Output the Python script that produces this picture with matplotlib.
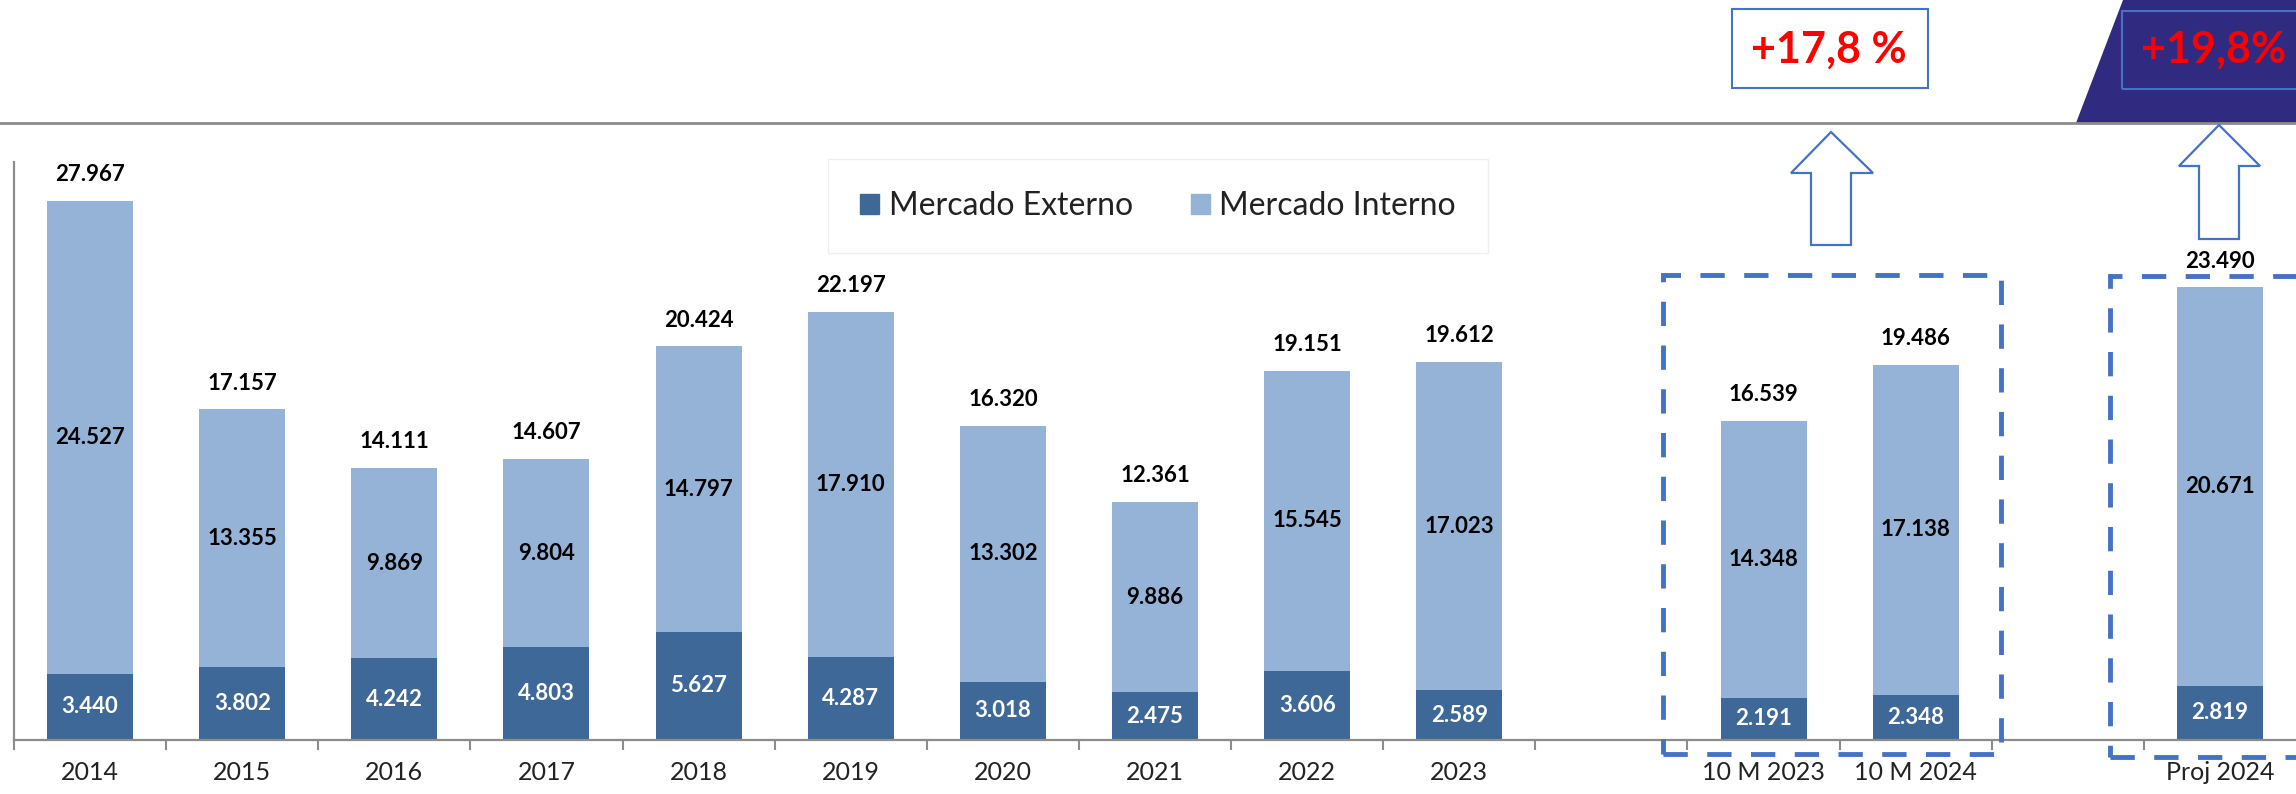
import matplotlib
matplotlib.use("Agg")
import matplotlib.pyplot as plt
from matplotlib.patches import Patch, Rectangle, Polygon
from matplotlib.lines import Line2D
from matplotlib.ticker import FixedLocator

plt.rcParams['font.family'] = ['Lato', 'DejaVu Sans']

# ---------------- data ----------------
categories = ["2014", "2015", "2016", "2017", "2018", "2019", "2020", "2021",
              "2022", "2023", "10 M 2023", "10 M 2024", "Proj 2024"]
slots = [0, 1, 2, 3, 4, 5, 6, 7, 8, 9, 11, 12, 14]
externo = [3440, 3802, 4242, 4803, 5627, 4287, 3018, 2475, 3606, 2589, 2191, 2348, 2819]
interno = [24527, 13355, 9869, 9804, 14797, 17910, 13302, 9886, 15545, 17023, 14348, 17138, 20671]
growth_labels = ["+17,8 %", "+19,8%"]
series_names = ["Mercado Externo", "Mercado Interno"]

C_EXT = "#3e6898"
C_INT = "#95b3d7"
C_BLUE = "#4472c4"
GRAY = "#8c8c8c"

W, H = 2296, 794
fig = plt.figure(figsize=(W / 100, H / 100), dpi=100)


def fx(x):
    return x / W


def fy(y):
    return 1 - y / H


ax = fig.add_axes([fx(14), fy(740), fx(W - 14), (740 - 162) / H])
ax.set_xlim(-0.5, 14.5)
ax.set_ylim(0, 30000)

bw = 0.565
ax.bar(slots, externo, width=bw, color=C_EXT, zorder=2)
ax.bar(slots, interno, width=bw, bottom=externo, color=C_INT, zorder=2)


def fmt(v):
    return f"{v:,}".replace(",", ".")


for x, e, i in zip(slots, externo, interno):
    ax.text(x, e / 2, fmt(e), ha="center", va="center", color="white",
            fontsize=16, fontweight="bold", zorder=3)
    ax.text(x, e + i / 2, fmt(i), ha="center", va="center", color="black",
            fontsize=16, fontweight="bold", zorder=3)
    ax.annotate(fmt(e + i), (x, e + i), xytext=(0, 19), textcoords="offset points",
                ha="center", va="center", color="black", fontsize=16,
                fontweight="bold", zorder=3)

# axes styling
for s in ["top", "right"]:
    ax.spines[s].set_visible(False)
for s in ["left", "bottom"]:
    ax.spines[s].set_color(GRAY)
    ax.spines[s].set_linewidth(1.6)
ax.set_yticks([])
ax.set_xticks(slots)
ax.set_xticklabels(categories, fontsize=18, color="#222222")
ax.tick_params(axis="x", which="major", length=0, pad=15)
ax.xaxis.set_minor_locator(FixedLocator([k - 0.5 for k in range(15)]))
ax.tick_params(axis="x", which="minor", length=7, width=1.5, color=GRAY)

# dashed highlight boxes
ax.add_patch(Rectangle((10.34, -730), 12.56 - 10.34, 24135 + 730, fill=False,
                       edgecolor=C_BLUE, linewidth=3.5, linestyle=(0, (5, 4)),
                       clip_on=False, zorder=4))
ax.add_patch(Rectangle((13.28, -880), 1.8, 24080 + 880, fill=False,
                       edgecolor=C_BLUE, linewidth=3.5, linestyle=(0, (5, 4)),
                       clip_on=False, zorder=4))

# legend
handles = [Patch(facecolor=C_EXT, edgecolor=C_EXT), Patch(facecolor=C_INT, edgecolor=C_INT)]
leg = fig.legend(handles, series_names, loc="center", bbox_to_anchor=(fx(1158), fy(206)),
                 ncol=2, fontsize=23, frameon=True, fancybox=False,
                 handlelength=0.6, handleheight=0.6, handletextpad=0.3,
                 columnspacing=1.8, borderpad=1.0)
leg.get_frame().set_edgecolor("#ececec")
leg.get_frame().set_linewidth(1.0)
for t in leg.get_texts():
    t.set_color("#222222")

# top separator line
fig.add_artist(Line2D([0, 1], [fy(123), fy(123)], color=GRAY, linewidth=2.0,
                      transform=fig.transFigure))

# navy trapezoid
fig.add_artist(Polygon([(fx(2076), fy(123)), (fx(2123), fy(0)), (fx(W), fy(0)), (fx(W), fy(123))],
                       closed=True, facecolor="#302a80", edgecolor="none",
                       transform=fig.transFigure, zorder=1))

# growth boxes
fig.add_artist(Rectangle((fx(1732), fy(88)), fx(1928 - 1732), (88 - 9) / H, fill=True,
                         facecolor="white", edgecolor=C_BLUE, linewidth=1.5,
                         transform=fig.transFigure, zorder=2))
fig.text(fx(1829), fy(50), growth_labels[0], ha="center", va="center", color="#ff0000",
         fontsize=31, fontweight="bold", zorder=3)
fig.add_artist(Rectangle((fx(2122), fy(89)), fx(W + 5 - 2122), (89 - 11) / H, fill=False,
                         edgecolor=C_BLUE, linewidth=1.5,
                         transform=fig.transFigure, zorder=2))
fig.text(fx(2214), fy(50), growth_labels[1], ha="center", va="center", color="#ff0000",
         fontsize=31, fontweight="bold", zorder=3)


# hollow up arrows
def up_arrow(tip_x, tip_y, head_y, head_l, head_r, sh_l, sh_r, bottom):
    pts = [(tip_x, tip_y), (head_r, head_y), (sh_r, head_y), (sh_r, bottom),
           (sh_l, bottom), (sh_l, head_y), (head_l, head_y)]
    fig.add_artist(Polygon([(fx(a), fy(b)) for a, b in pts], closed=True,
                           facecolor="white", edgecolor=C_BLUE, linewidth=1.6,
                           transform=fig.transFigure, zorder=5))


up_arrow(1831, 132, 173, 1791, 1873, 1811, 1851, 245)
up_arrow(2219, 125, 166, 2179, 2260, 2199, 2239, 239)

fig.savefig("out.png", dpi=100)
